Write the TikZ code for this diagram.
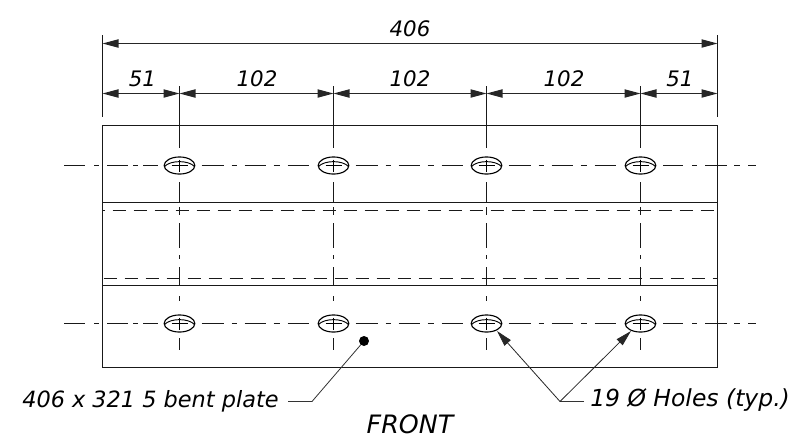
\documentclass[tikz,border=0pt]{standalone}
\usepackage{fontspec}
\setmainfont{DejaVu Sans}
\usetikzlibrary{arrows.meta,shapes.geometric}
\tikzset{
  line/.style={line width=0.95pt,black!90},
  thin line/.style={line width=0.6pt,black!80},
  hidden/.style={line width=0.9pt,black!90,dash pattern=on 10.1pt off 5.65pt},
  dim/.style={line width=0.8pt,black!85,{Triangle[length=12pt,width=6.2pt]}-{Triangle[length=12pt,width=6.2pt]}},
  lead/.style={line width=0.6pt,black!85,-{Triangle[length=12pt,width=6.2pt]}},
  hole/.style={draw,ellipse,line width=0.85pt,minimum width=23pt,minimum height=12.8pt,inner sep=0pt},
  lab/.style={font=\itshape\fontsize{16}{16}\selectfont,inner sep=0pt,anchor=base},
  ext/.style={line width=0.85pt,black!90},
}
\begin{document}
\begin{tikzpicture}[x=0.75pt,y=-0.75pt]
\useasboundingbox (0,0) rectangle (801,444);
% plate
\coordinate (tl) at (102.5,125.5); \coordinate (tr) at (717.5,125.5);
\coordinate (bl) at (102.5,367.5); \coordinate (br) at (717.5,367.5);
\draw[line] (tl) -- (tr) -- (br) -- (bl) -- cycle;
\draw[line] (102.5,202.5) -- (717.5,202.5);
\draw[line] (102.5,285.5) -- (717.5,285.5);
\draw[hidden,dash phase=8.25pt] (102.5,210.5) -- (717.5,210.5);
\draw[hidden,dash phase=15pt] (102.5,278.5) -- (717.5,278.5);
% holes
\foreach \n/\x in {a/179.5,b/333.5,c/486.5,d/640.5}{
  \foreach \r/\y in {u/165.5,l/323.5}{
    \node[hole] (\n\r) at (\x,\y) {};
    \draw[line width=0.7pt] (\x-15,\y+1) .. controls (\x-9,\y-5.5) and (\x+9,\y-5.5) .. (\x+15,\y+1);
    \draw[line width=0.7pt] (\x-8,\y) -- (\x+8,\y) (\x,\y-6) -- (\x,\y+6);
  }
  \draw[ext] (\x,86) -- (\x,148);
  \draw[ext] (\x,182) -- (\x,203);
  \foreach \p/\q in {207/215,223/248,255/259,267/285.5,296/301,338/350}
    \draw[ext] (\x,\p) -- (\x,\q);
}
% centre lines
\foreach \y in {165.5,323.5}{
  \foreach \p/\q in {64/85,94/99,107/128,133/138,143/158,663/683,692/697,705/727,734/740,748/756}
    \draw[ext] (\p,\y) -- (\q,\y);
  \foreach \x in {179.5,333.5,486.5}
    \foreach \p/\q in {22/44,52/57,65/86,94/100,108/129}
      \draw[ext] (\x+\p,\y) -- (\x+\q,\y);
}
% dimensions
\coordinate (e1) at (102.5,35); \coordinate (e2) at (102.5,117);
\coordinate (e3) at (717.5,35); \coordinate (e4) at (717.5,117);
\draw[ext] (e1) -- (e2); \draw[ext] (e3) -- (e4);
\coordinate (t1) at (102.5,43.5); \coordinate (t2) at (717.5,43.5);
\draw[dim] (t1) -- (t2);
\coordinate (d0) at (102.5,93.5); \coordinate (d1) at (179.5,93.5); \coordinate (d2) at (333.5,93.5);
\coordinate (d3) at (486.5,93.5); \coordinate (d4) at (640.5,93.5); \coordinate (d5) at (717.5,93.5);
\draw[dim] (d0) -- (d1); \draw[dim] (d1) -- (d2); \draw[dim] (d2) -- (d3); \draw[dim] (d3) -- (d4); \draw[dim] (d4) -- (d5);
\node[lab] (n406) at (410,36) {406};
\node[lab] (n51a) at (142.5,86) {51};
\node[lab] (n102a) at (257,86) {102};
\node[lab] (n102b) at (410,86) {102};
\node[lab] (n102c) at (564,86) {102};
\node[lab] (n51b) at (680,86) {51};
% leaders
\node[circle,fill=black,minimum size=7.5pt,inner sep=0pt] (dot) at (364,341) {};
\coordinate (k1) at (288,401.5); \coordinate (k2) at (312,401.5);
\draw[thin line] (k1) -- (k2) -- (dot);
\node[lab,anchor=base west,font=\itshape\fontsize{16.8}{17}\selectfont] (plate) at (22,407) {406 x 321 5 bent plate};
\coordinate (k3) at (584,401.5); \coordinate (k4) at (560,401.5);
\coordinate (tipc) at (497,331); \coordinate (tipd) at (631,331);
\draw[thin line] (k3) -- (k4);
\draw[lead] (k4) -- (tipc);
\draw[lead] (k4) -- (tipd);
\node[lab,anchor=base west,font=\itshape\fontsize{17.6}{18}\selectfont] (holes) at (590,406.7) {19 Ø Holes (typ.)};
\node[lab,font=\itshape\fontsize{19}{19}\selectfont] (front) at (410,433) {FRONT};
\end{tikzpicture}
\end{document}
